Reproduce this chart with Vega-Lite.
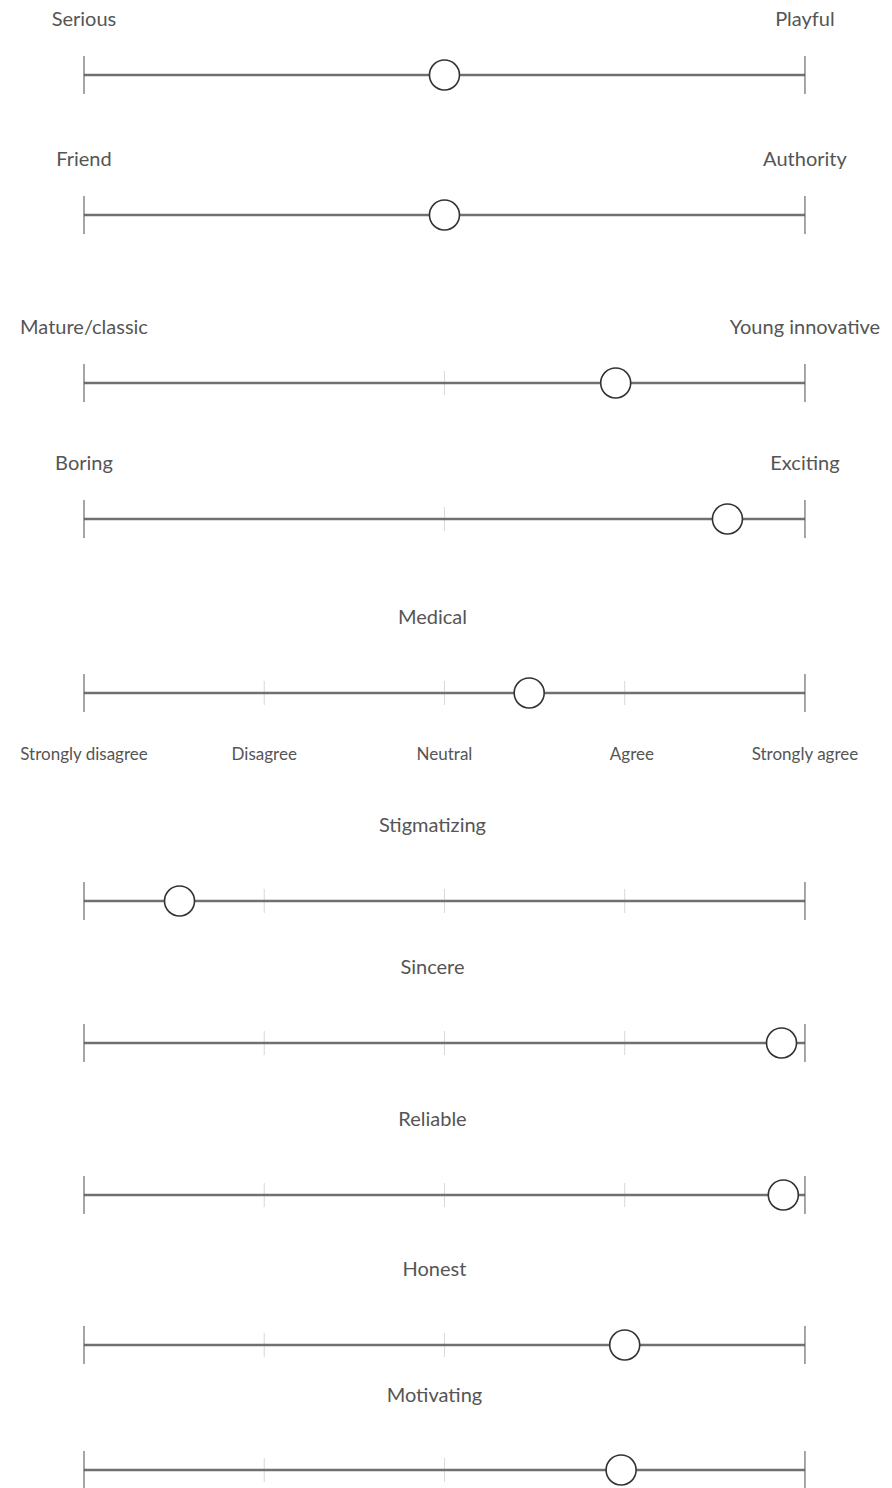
{
"$schema":"https://vega.github.io/schema/vega-lite/v6.json",
"padding":0,"spacing":0,"bounds":"flush",
"config":{"view":{"stroke":null},"text":{"font":"Lato","color":"#555555","baseline":"middle","align":"center","letterSpacing":0.8}},
"datasets":{
"scales":[
{"item":"serious","left":"Serious","right":"Playful","title":"","score":3.0,"min":1,"max":5,"mid":3},
{"item":"friend","left":"Friend","right":"Authority","title":"","score":3.0,"min":1,"max":5,"mid":3},
{"item":"mature","left":"Mature/classic","right":"Young innovative","title":"","score":3.95,"min":1,"max":5,"mid":3},
{"item":"boring","left":"Boring","right":"Exciting","title":"","score":4.57,"min":1,"max":5,"mid":3},
{"item":"medical","left":"","right":"","title":"Medical","score":3.47,"min":1,"max":5,"mid":3},
{"item":"stigmatizing","left":"","right":"","title":"Stigmatizing","score":1.53,"min":1,"max":5,"mid":3},
{"item":"sincere","left":"","right":"","title":"Sincere","score":4.87,"min":1,"max":5,"mid":3},
{"item":"reliable","left":"","right":"","title":"Reliable","score":4.88,"min":1,"max":5,"mid":3},
{"item":"honest","left":"","right":"","title":"Honest","score":4.0,"min":1,"max":5,"mid":3},
{"item":"motivating","left":"","right":"","title":"Motivating","score":3.98,"min":1,"max":5,"mid":3}
],
"ticks":[
{"item":"mature","point":3},{"item":"boring","point":3},
{"item":"medical","point":2},{"item":"medical","point":3},{"item":"medical","point":4},
{"item":"stigmatizing","point":2},{"item":"stigmatizing","point":3},{"item":"stigmatizing","point":4},
{"item":"sincere","point":2},{"item":"sincere","point":3},{"item":"sincere","point":4},
{"item":"reliable","point":2},{"item":"reliable","point":3},{"item":"reliable","point":4},
{"item":"honest","point":2},{"item":"honest","point":3},{"item":"honest","point":4},
{"item":"motivating","point":2},{"item":"motivating","point":3},{"item":"motivating","point":4}
],
"answers":[
{"item":"medical","point":1,"label":"Strongly disagree"},
{"item":"medical","point":2,"label":"Disagree"},
{"item":"medical","point":3,"label":"Neutral"},
{"item":"medical","point":4.04,"label":"Agree"},
{"item":"medical","point":5,"label":"Strongly agree"}
]
},
"vconcat":[
{"width":892,"height":150,"data":{"name":"scales"},"transform":[{"filter":"datum.item==='serious'"}],"layer":[
{"mark":{"type":"rule","color":"#707070","strokeWidth":2.5},"encoding":{"x":{"field":"min","type":"quantitative","scale":{"domain":[0.534,5.483],"nice":false,"zero":false},"axis":null},"x2":{"field":"max"}}},
{"mark":{"type":"tick","color":"#555555","size":38,"thickness":1.5},"encoding":{"x":{"field":"min","type":"quantitative","scale":{"domain":[0.534,5.483],"nice":false,"zero":false},"axis":null}}},
{"mark":{"type":"tick","color":"#555555","size":38,"thickness":1.5},"encoding":{"x":{"field":"max","type":"quantitative","scale":{"domain":[0.534,5.483],"nice":false,"zero":false},"axis":null}}},
{"mark":{"type":"point","shape":"circle","size":900,"filled":true,"fill":"white","stroke":"#333333","strokeWidth":1.6,"opacity":1},"encoding":{"x":{"field":"score","type":"quantitative","scale":{"domain":[0.534,5.483],"nice":false,"zero":false},"axis":null}}},
{"mark":{"type":"text","dy":-55,"fontSize":20},"encoding":{"x":{"field":"min","type":"quantitative","scale":{"domain":[0.534,5.483],"nice":false,"zero":false},"axis":null},"text":{"field":"left"}}},
{"mark":{"type":"text","dy":-55,"fontSize":20},"encoding":{"x":{"field":"max","type":"quantitative","scale":{"domain":[0.534,5.483],"nice":false,"zero":false},"axis":null},"text":{"field":"right"}}}
]},
{"width":892,"height":130,"data":{"name":"scales"},"transform":[{"filter":"datum.item==='friend'"}],"layer":[
{"mark":{"type":"rule","color":"#707070","strokeWidth":2.5},"encoding":{"x":{"field":"min","type":"quantitative","scale":{"domain":[0.534,5.483],"nice":false,"zero":false},"axis":null},"x2":{"field":"max"}}},
{"mark":{"type":"tick","color":"#555555","size":38,"thickness":1.5},"encoding":{"x":{"field":"min","type":"quantitative","scale":{"domain":[0.534,5.483],"nice":false,"zero":false},"axis":null}}},
{"mark":{"type":"tick","color":"#555555","size":38,"thickness":1.5},"encoding":{"x":{"field":"max","type":"quantitative","scale":{"domain":[0.534,5.483],"nice":false,"zero":false},"axis":null}}},
{"mark":{"type":"point","shape":"circle","size":900,"filled":true,"fill":"white","stroke":"#333333","strokeWidth":1.6,"opacity":1},"encoding":{"x":{"field":"score","type":"quantitative","scale":{"domain":[0.534,5.483],"nice":false,"zero":false},"axis":null}}},
{"mark":{"type":"text","dy":-55,"fontSize":20},"encoding":{"x":{"field":"min","type":"quantitative","scale":{"domain":[0.534,5.483],"nice":false,"zero":false},"axis":null},"text":{"field":"left"}}},
{"mark":{"type":"text","dy":-55,"fontSize":20},"encoding":{"x":{"field":"max","type":"quantitative","scale":{"domain":[0.534,5.483],"nice":false,"zero":false},"axis":null},"text":{"field":"right"}}}
]},
{"width":892,"height":206,"data":{"name":"scales"},"transform":[{"filter":"datum.item==='mature'"}],"layer":[
{"data":{"name":"ticks"},"transform":[{"filter":"datum.item==='mature'"}],"mark":{"type":"tick","color":"#c8c8c8","size":24,"thickness":1},"encoding":{"x":{"field":"point","type":"quantitative","scale":{"domain":[0.534,5.483],"nice":false,"zero":false},"axis":null}}},
{"mark":{"type":"rule","color":"#707070","strokeWidth":2.5},"encoding":{"x":{"field":"min","type":"quantitative","scale":{"domain":[0.534,5.483],"nice":false,"zero":false},"axis":null},"x2":{"field":"max"}}},
{"mark":{"type":"tick","color":"#555555","size":38,"thickness":1.5},"encoding":{"x":{"field":"min","type":"quantitative","scale":{"domain":[0.534,5.483],"nice":false,"zero":false},"axis":null}}},
{"mark":{"type":"tick","color":"#555555","size":38,"thickness":1.5},"encoding":{"x":{"field":"max","type":"quantitative","scale":{"domain":[0.534,5.483],"nice":false,"zero":false},"axis":null}}},
{"mark":{"type":"point","shape":"circle","size":900,"filled":true,"fill":"white","stroke":"#333333","strokeWidth":1.6,"opacity":1},"encoding":{"x":{"field":"score","type":"quantitative","scale":{"domain":[0.534,5.483],"nice":false,"zero":false},"axis":null}}},
{"mark":{"type":"text","dy":-55,"fontSize":20},"encoding":{"x":{"field":"min","type":"quantitative","scale":{"domain":[0.534,5.483],"nice":false,"zero":false},"axis":null},"text":{"field":"left"}}},
{"mark":{"type":"text","dy":-55,"fontSize":20},"encoding":{"x":{"field":"max","type":"quantitative","scale":{"domain":[0.534,5.483],"nice":false,"zero":false},"axis":null},"text":{"field":"right"}}}
]},
{"width":892,"height":66,"data":{"name":"scales"},"transform":[{"filter":"datum.item==='boring'"}],"layer":[
{"data":{"name":"ticks"},"transform":[{"filter":"datum.item==='boring'"}],"mark":{"type":"tick","color":"#c8c8c8","size":24,"thickness":1},"encoding":{"x":{"field":"point","type":"quantitative","scale":{"domain":[0.534,5.483],"nice":false,"zero":false},"axis":null}}},
{"mark":{"type":"rule","color":"#707070","strokeWidth":2.5},"encoding":{"x":{"field":"min","type":"quantitative","scale":{"domain":[0.534,5.483],"nice":false,"zero":false},"axis":null},"x2":{"field":"max"}}},
{"mark":{"type":"tick","color":"#555555","size":38,"thickness":1.5},"encoding":{"x":{"field":"min","type":"quantitative","scale":{"domain":[0.534,5.483],"nice":false,"zero":false},"axis":null}}},
{"mark":{"type":"tick","color":"#555555","size":38,"thickness":1.5},"encoding":{"x":{"field":"max","type":"quantitative","scale":{"domain":[0.534,5.483],"nice":false,"zero":false},"axis":null}}},
{"mark":{"type":"point","shape":"circle","size":900,"filled":true,"fill":"white","stroke":"#333333","strokeWidth":1.6,"opacity":1},"encoding":{"x":{"field":"score","type":"quantitative","scale":{"domain":[0.534,5.483],"nice":false,"zero":false},"axis":null}}},
{"mark":{"type":"text","dy":-55,"fontSize":20},"encoding":{"x":{"field":"min","type":"quantitative","scale":{"domain":[0.534,5.483],"nice":false,"zero":false},"axis":null},"text":{"field":"left"}}},
{"mark":{"type":"text","dy":-55,"fontSize":20},"encoding":{"x":{"field":"max","type":"quantitative","scale":{"domain":[0.534,5.483],"nice":false,"zero":false},"axis":null},"text":{"field":"right"}}}
]},
{"width":892,"height":282,"data":{"name":"scales"},"transform":[{"filter":"datum.item==='medical'"}],"layer":[
{"data":{"name":"ticks"},"transform":[{"filter":"datum.item==='medical'"}],"mark":{"type":"tick","color":"#c8c8c8","size":24,"thickness":1},"encoding":{"x":{"field":"point","type":"quantitative","scale":{"domain":[0.534,5.483],"nice":false,"zero":false},"axis":null}}},
{"mark":{"type":"rule","color":"#707070","strokeWidth":2.5},"encoding":{"x":{"field":"min","type":"quantitative","scale":{"domain":[0.534,5.483],"nice":false,"zero":false},"axis":null},"x2":{"field":"max"}}},
{"mark":{"type":"tick","color":"#555555","size":38,"thickness":1.5},"encoding":{"x":{"field":"min","type":"quantitative","scale":{"domain":[0.534,5.483],"nice":false,"zero":false},"axis":null}}},
{"mark":{"type":"tick","color":"#555555","size":38,"thickness":1.5},"encoding":{"x":{"field":"max","type":"quantitative","scale":{"domain":[0.534,5.483],"nice":false,"zero":false},"axis":null}}},
{"mark":{"type":"point","shape":"circle","size":900,"filled":true,"fill":"white","stroke":"#333333","strokeWidth":1.6,"opacity":1},"encoding":{"x":{"field":"score","type":"quantitative","scale":{"domain":[0.534,5.483],"nice":false,"zero":false},"axis":null}}},
{"mark":{"type":"text","dy":-75,"dx":-12,"fontSize":20},"encoding":{"x":{"field":"mid","type":"quantitative","scale":{"domain":[0.534,5.483],"nice":false,"zero":false},"axis":null},"text":{"field":"title"}}},
{"data":{"name":"answers"},"transform":[{"filter":"datum.item==='medical'"}],"mark":{"type":"text","dy":62,"fontSize":17,"letterSpacing":0.7},"encoding":{"x":{"field":"point","type":"quantitative","scale":{"domain":[0.534,5.483],"nice":false,"zero":false},"axis":null},"text":{"field":"label"}}}
]},
{"width":892,"height":134,"data":{"name":"scales"},"transform":[{"filter":"datum.item==='stigmatizing'"}],"layer":[
{"data":{"name":"ticks"},"transform":[{"filter":"datum.item==='stigmatizing'"}],"mark":{"type":"tick","color":"#c8c8c8","size":24,"thickness":1},"encoding":{"x":{"field":"point","type":"quantitative","scale":{"domain":[0.534,5.483],"nice":false,"zero":false},"axis":null}}},
{"mark":{"type":"rule","color":"#707070","strokeWidth":2.5},"encoding":{"x":{"field":"min","type":"quantitative","scale":{"domain":[0.534,5.483],"nice":false,"zero":false},"axis":null},"x2":{"field":"max"}}},
{"mark":{"type":"tick","color":"#555555","size":38,"thickness":1.5},"encoding":{"x":{"field":"min","type":"quantitative","scale":{"domain":[0.534,5.483],"nice":false,"zero":false},"axis":null}}},
{"mark":{"type":"tick","color":"#555555","size":38,"thickness":1.5},"encoding":{"x":{"field":"max","type":"quantitative","scale":{"domain":[0.534,5.483],"nice":false,"zero":false},"axis":null}}},
{"mark":{"type":"point","shape":"circle","size":900,"filled":true,"fill":"white","stroke":"#333333","strokeWidth":1.6,"opacity":1},"encoding":{"x":{"field":"score","type":"quantitative","scale":{"domain":[0.534,5.483],"nice":false,"zero":false},"axis":null}}},
{"mark":{"type":"text","dy":-75,"dx":-12,"fontSize":20},"encoding":{"x":{"field":"mid","type":"quantitative","scale":{"domain":[0.534,5.483],"nice":false,"zero":false},"axis":null},"text":{"field":"title"}}}
]},
{"width":892,"height":150,"data":{"name":"scales"},"transform":[{"filter":"datum.item==='sincere'"}],"layer":[
{"data":{"name":"ticks"},"transform":[{"filter":"datum.item==='sincere'"}],"mark":{"type":"tick","color":"#c8c8c8","size":24,"thickness":1},"encoding":{"x":{"field":"point","type":"quantitative","scale":{"domain":[0.534,5.483],"nice":false,"zero":false},"axis":null}}},
{"mark":{"type":"rule","color":"#707070","strokeWidth":2.5},"encoding":{"x":{"field":"min","type":"quantitative","scale":{"domain":[0.534,5.483],"nice":false,"zero":false},"axis":null},"x2":{"field":"max"}}},
{"mark":{"type":"tick","color":"#555555","size":38,"thickness":1.5},"encoding":{"x":{"field":"min","type":"quantitative","scale":{"domain":[0.534,5.483],"nice":false,"zero":false},"axis":null}}},
{"mark":{"type":"tick","color":"#555555","size":38,"thickness":1.5},"encoding":{"x":{"field":"max","type":"quantitative","scale":{"domain":[0.534,5.483],"nice":false,"zero":false},"axis":null}}},
{"mark":{"type":"point","shape":"circle","size":900,"filled":true,"fill":"white","stroke":"#333333","strokeWidth":1.6,"opacity":1},"encoding":{"x":{"field":"score","type":"quantitative","scale":{"domain":[0.534,5.483],"nice":false,"zero":false},"axis":null}}},
{"mark":{"type":"text","dy":-75,"dx":-12,"fontSize":20},"encoding":{"x":{"field":"mid","type":"quantitative","scale":{"domain":[0.534,5.483],"nice":false,"zero":false},"axis":null},"text":{"field":"title"}}}
]},
{"width":892,"height":154,"data":{"name":"scales"},"transform":[{"filter":"datum.item==='reliable'"}],"layer":[
{"data":{"name":"ticks"},"transform":[{"filter":"datum.item==='reliable'"}],"mark":{"type":"tick","color":"#c8c8c8","size":24,"thickness":1},"encoding":{"x":{"field":"point","type":"quantitative","scale":{"domain":[0.534,5.483],"nice":false,"zero":false},"axis":null}}},
{"mark":{"type":"rule","color":"#707070","strokeWidth":2.5},"encoding":{"x":{"field":"min","type":"quantitative","scale":{"domain":[0.534,5.483],"nice":false,"zero":false},"axis":null},"x2":{"field":"max"}}},
{"mark":{"type":"tick","color":"#555555","size":38,"thickness":1.5},"encoding":{"x":{"field":"min","type":"quantitative","scale":{"domain":[0.534,5.483],"nice":false,"zero":false},"axis":null}}},
{"mark":{"type":"tick","color":"#555555","size":38,"thickness":1.5},"encoding":{"x":{"field":"max","type":"quantitative","scale":{"domain":[0.534,5.483],"nice":false,"zero":false},"axis":null}}},
{"mark":{"type":"point","shape":"circle","size":900,"filled":true,"fill":"white","stroke":"#333333","strokeWidth":1.6,"opacity":1},"encoding":{"x":{"field":"score","type":"quantitative","scale":{"domain":[0.534,5.483],"nice":false,"zero":false},"axis":null}}},
{"mark":{"type":"text","dy":-75,"dx":-12,"fontSize":20},"encoding":{"x":{"field":"mid","type":"quantitative","scale":{"domain":[0.534,5.483],"nice":false,"zero":false},"axis":null},"text":{"field":"title"}}}
]},
{"width":892,"height":146,"data":{"name":"scales"},"transform":[{"filter":"datum.item==='honest'"}],"layer":[
{"data":{"name":"ticks"},"transform":[{"filter":"datum.item==='honest'"}],"mark":{"type":"tick","color":"#c8c8c8","size":24,"thickness":1},"encoding":{"x":{"field":"point","type":"quantitative","scale":{"domain":[0.534,5.483],"nice":false,"zero":false},"axis":null}}},
{"mark":{"type":"rule","color":"#707070","strokeWidth":2.5},"encoding":{"x":{"field":"min","type":"quantitative","scale":{"domain":[0.534,5.483],"nice":false,"zero":false},"axis":null},"x2":{"field":"max"}}},
{"mark":{"type":"tick","color":"#555555","size":38,"thickness":1.5},"encoding":{"x":{"field":"min","type":"quantitative","scale":{"domain":[0.534,5.483],"nice":false,"zero":false},"axis":null}}},
{"mark":{"type":"tick","color":"#555555","size":38,"thickness":1.5},"encoding":{"x":{"field":"max","type":"quantitative","scale":{"domain":[0.534,5.483],"nice":false,"zero":false},"axis":null}}},
{"mark":{"type":"point","shape":"circle","size":900,"filled":true,"fill":"white","stroke":"#333333","strokeWidth":1.6,"opacity":1},"encoding":{"x":{"field":"score","type":"quantitative","scale":{"domain":[0.534,5.483],"nice":false,"zero":false},"axis":null}}},
{"mark":{"type":"text","dy":-75,"dx":-10,"fontSize":20},"encoding":{"x":{"field":"mid","type":"quantitative","scale":{"domain":[0.534,5.483],"nice":false,"zero":false},"axis":null},"text":{"field":"title"}}}
]},
{"width":892,"height":104,"data":{"name":"scales"},"transform":[{"filter":"datum.item==='motivating'"}],"layer":[
{"data":{"name":"ticks"},"transform":[{"filter":"datum.item==='motivating'"}],"mark":{"type":"tick","color":"#c8c8c8","size":24,"thickness":1},"encoding":{"x":{"field":"point","type":"quantitative","scale":{"domain":[0.534,5.483],"nice":false,"zero":false},"axis":null}}},
{"mark":{"type":"rule","color":"#707070","strokeWidth":2.5},"encoding":{"x":{"field":"min","type":"quantitative","scale":{"domain":[0.534,5.483],"nice":false,"zero":false},"axis":null},"x2":{"field":"max"}}},
{"mark":{"type":"tick","color":"#555555","size":38,"thickness":1.5},"encoding":{"x":{"field":"min","type":"quantitative","scale":{"domain":[0.534,5.483],"nice":false,"zero":false},"axis":null}}},
{"mark":{"type":"tick","color":"#555555","size":38,"thickness":1.5},"encoding":{"x":{"field":"max","type":"quantitative","scale":{"domain":[0.534,5.483],"nice":false,"zero":false},"axis":null}}},
{"mark":{"type":"point","shape":"circle","size":900,"filled":true,"fill":"white","stroke":"#333333","strokeWidth":1.6,"opacity":1},"encoding":{"x":{"field":"score","type":"quantitative","scale":{"domain":[0.534,5.483],"nice":false,"zero":false},"axis":null}}},
{"mark":{"type":"text","dy":-74,"dx":-10,"fontSize":20},"encoding":{"x":{"field":"mid","type":"quantitative","scale":{"domain":[0.534,5.483],"nice":false,"zero":false},"axis":null},"text":{"field":"title"}}}
]}
]
}
